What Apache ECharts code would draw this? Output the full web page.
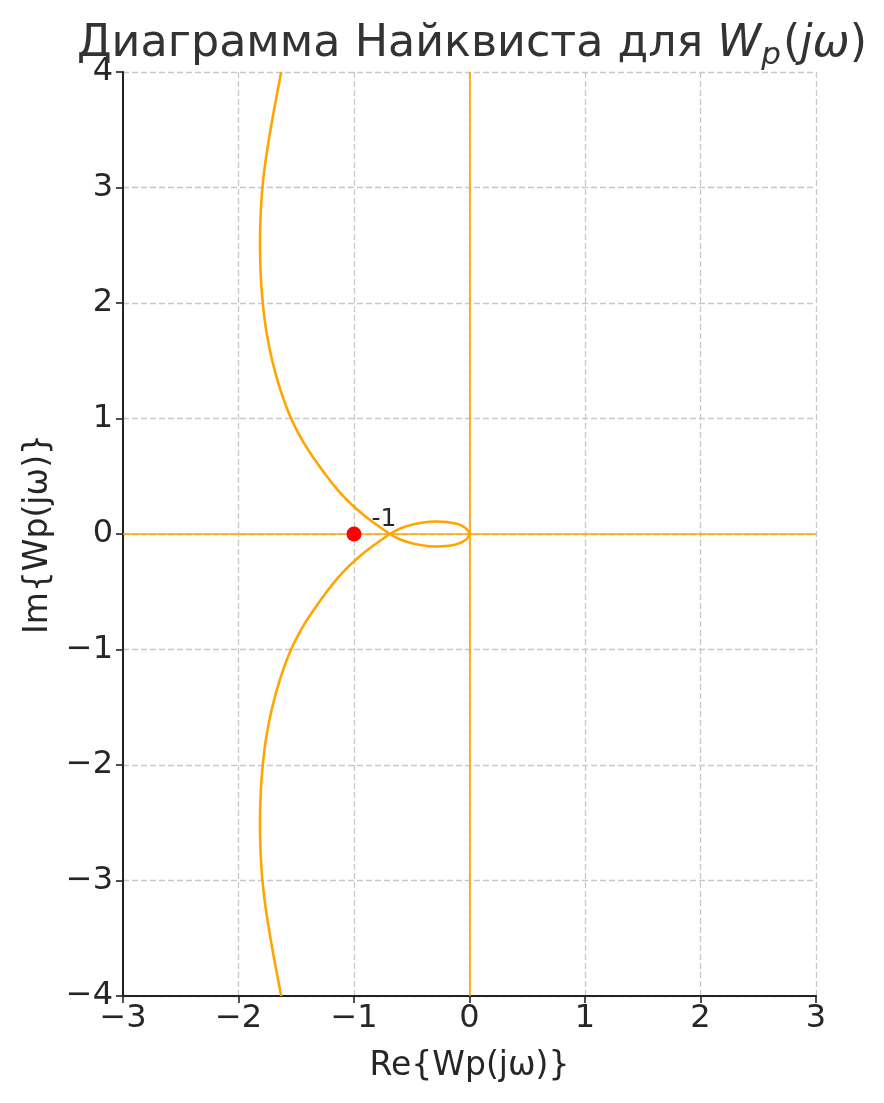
<!DOCTYPE html>
<html>
<head>
<meta charset="utf-8">
<script src="https://cdn.jsdelivr.net/npm/echarts@6/dist/echarts.min.js"></script>
<style>
html,body{margin:0;padding:0;background:#fff;}
#chart{width:884px;height:1103px;}
</style>
</head>
<body>
<div id="chart"></div>
<script>
// ---- data ----
// upper branch (negative frequencies), from the top edge down to the self-crossing
const upperBranchRe = [-1.630, -1.678, -1.723, -1.763, -1.793, -1.809, -1.814, -1.808, -1.790, -1.758, -1.708, -1.638, -1.545, -1.441, -1.337, -1.236, -1.140, -1.066, -0.982, -0.898, -0.804, -0.688];
const upperBranchIm = [4.00, 3.75, 3.50, 3.25, 3.00, 2.75, 2.50, 2.25, 2.00, 1.75, 1.50, 1.25, 1.00, 0.80, 0.64, 0.50, 0.38, 0.30, 0.22, 0.15, 0.08, 0.00];
// lower half of the small loop, crossing -> origin
const lowerLoopRe = [-0.60, -0.50, -0.40, -0.30, -0.20, -0.12, -0.06, -0.02, 0.00];
const lowerLoopIm = [-0.048, -0.080, -0.100, -0.108, -0.104, -0.090, -0.068, -0.038, 0.00];
// upper half of the small loop, origin -> crossing
const upperLoopRe = [-0.02, -0.06, -0.12, -0.20, -0.30, -0.40, -0.50, -0.60, -0.688];
const upperLoopIm = [0.038, 0.068, 0.090, 0.104, 0.108, 0.100, 0.080, 0.048, 0.00];
// lower branch (positive frequencies), from the crossing down to the bottom edge
const lowerBranchRe = [-0.804, -0.898, -0.982, -1.066, -1.140, -1.236, -1.337, -1.441, -1.545, -1.638, -1.708, -1.758, -1.790, -1.808, -1.814, -1.809, -1.793, -1.763, -1.723, -1.678, -1.630];
const lowerBranchIm = [-0.08, -0.15, -0.22, -0.30, -0.38, -0.50, -0.64, -0.80, -1.00, -1.25, -1.50, -1.75, -2.00, -2.25, -2.50, -2.75, -3.00, -3.25, -3.50, -3.75, -4.00];

const criticalPoint = [-1, 0];
const criticalLabel = '-1';

const xTicks = [-3, -2, -1, 0, 1, 2, 3];
const xTickLabels = ['\u22123', '\u22122', '\u22121', '0', '1', '2', '3'];
const yTicks = [-4, -3, -2, -1, 0, 1, 2, 3, 4];
const yTickLabels = ['\u22124', '\u22123', '\u22122', '\u22121', '0', '1', '2', '3', '4'];

const xName = 'Re{Wp(j\u03c9)}';
const yName = 'Im{Wp(j\u03c9)}';

// ---- build ----
function pairs(re, im) { return re.map((v, i) => [v, im[i]]); }
const curve = [].concat(
  pairs(upperBranchRe, upperBranchIm),
  pairs(lowerLoopRe, lowerLoopIm),
  pairs(upperLoopRe, upperLoopIm),
  pairs(lowerBranchRe, lowerBranchIm)
);

const FONT = 'DejaVu Sans';
const TXT = '#262626';
const chart = echarts.init(document.getElementById('chart'), null, {renderer: 'canvas'});

const gridLine = {show: true, lineStyle: {color: '#c8c8c8', width: 1.3, type: [6, 3]}};

chart.setOption({
  animation: false,
  backgroundColor: '#ffffff',
  title: {
    text: '{n|Диаграмма Найквиста для }{i|W}{s|p}{n|(}{i|j}{i|\u03c9}{n|)}',
    left: 467,
    top: 13,
    textAlign: 'center',
    textStyle: {
      fontWeight: 'normal',
      rich: {
        n: {fontFamily: FONT, fontSize: 44.4, fontWeight: 'normal', color: '#333333', lineHeight: 52},
        i: {fontFamily: FONT, fontSize: 44.4, fontWeight: 'normal', fontStyle: 'italic', color: '#333333', lineHeight: 52},
        s: {fontFamily: FONT, fontSize: 31, fontWeight: 'normal', fontStyle: 'italic', color: '#333333', lineHeight: 31, padding: [23, 2, 0, 0]}
      }
    }
  },
  grid: {left: 123, right: 68, top: 72, bottom: 107, containLabel: false},
  xAxis: {
    type: 'value', min: -3, max: 3, interval: 1,
    name: xName, nameLocation: 'middle', nameGap: 54,
    nameTextStyle: {fontFamily: FONT, fontSize: 33, color: TXT},
    axisLine: {show: true, onZero: false, lineStyle: {color: '#222', width: 2}},
    axisTick: {show: true, length: 7, lineStyle: {color: '#222', width: 1.6}},
    axisLabel: {
      fontFamily: FONT, fontSize: 32, color: TXT, margin: 7,
      formatter: v => xTickLabels[xTicks.indexOf(Math.round(v))]
    },
    splitLine: gridLine
  },
  yAxis: {
    type: 'value', min: -4, max: 4, interval: 1,
    name: yName, nameLocation: 'middle', nameGap: 65, nameRotate: 90,
    nameTextStyle: {fontFamily: FONT, fontSize: 33, color: TXT},
    axisLine: {show: true, onZero: false, lineStyle: {color: '#222', width: 2}},
    axisTick: {show: true, length: 7, lineStyle: {color: '#222', width: 1.6}},
    axisLabel: {
      fontFamily: FONT, fontSize: 32, color: TXT, margin: 10,
      formatter: v => yTickLabels[yTicks.indexOf(Math.round(v))]
    },
    splitLine: gridLine
  },
  series: [
    {
      // reference lines Re = 0 and Im = 0
      type: 'line',
      data: [],
      z: 2,
      markLine: {
        silent: true,
        symbol: ['none', 'none'],
        label: {show: false},
        lineStyle: {color: '#FFA500', width: 1.7, type: 'solid'},
        data: [{yAxis: 0}, {xAxis: 0}]
      }
    },
    {
      // Nyquist curve, drawn as one smooth path through the data points
      type: 'custom',
      data: curve,
      encode: {x: 0, y: 1},
      z: 3,
      silent: true,
      renderItem: function (params, api) {
        if (params.dataIndex !== 0) return null;
        const pts = curve.map(p => api.coord(p));
        return {
          type: 'polyline',
          shape: {points: pts, smooth: 0.35},
          style: {stroke: '#FFA500', lineWidth: 2.6, fill: null, lineJoin: 'round'}
        };
      }
    },
    {
      type: 'scatter',
      data: [criticalPoint],
      symbol: 'circle',
      symbolSize: 15,
      itemStyle: {color: '#FF0000', opacity: 1},
      z: 5,
      label: {
        show: true,
        formatter: criticalLabel,
        position: 'right',
        distance: 10,
        offset: [0, -15],
        fontFamily: FONT,
        fontSize: 25,
        color: TXT
      }
    }
  ]
});
</script>
</body>
</html>
